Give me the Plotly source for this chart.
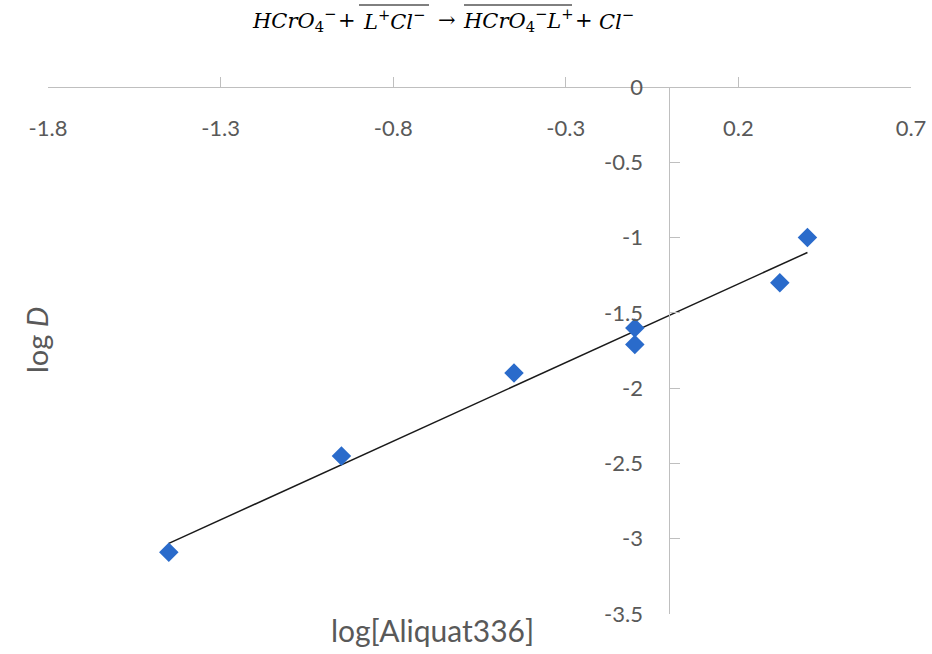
import numpy as np
import plotly.graph_objects as go

# Data
log_aliquat = [-1.45, -0.95, -0.45, -0.10, -0.10, 0.32, 0.40]
log_D = [-3.09, -2.45, -1.90, -1.60, -1.71, -1.30, -1.00]

x_tickvals = [-1.8, -1.3, -0.8, -0.3, 0.2, 0.7]
x_ticktext = ["-1.8", "-1.3", "-0.8", "-0.3", "0.2", "0.7"]
y_tickvals = [0, -0.5, -1, -1.5, -2, -2.5, -3, -3.5]
y_ticktext = ["0", "-0.5", "-1", "-1.5", "-2", "-2.5", "-3", "-3.5"]

# Equation pieces (text, overlined?)
eq_parts = [
    ("<i>HCrO</i><sub>4</sub><sup>−</sup>", False),
    ("+", False),
    ("<i>L</i><sup>+</sup><i>Cl</i><sup>−</sup>", True),
    ("→", False),
    ("<i>HCrO</i><sub>4</sub><sup>−</sup><i>L</i><sup>+</sup>", True),
    ("+", False),
    ("<i>Cl</i><sup>−</sup>", False),
]

# Linear trendline (least squares) from the data
slope, intercept = np.polyfit(log_aliquat, log_D, 1)
x_fit = [min(log_aliquat), max(log_aliquat)]
y_fit = [slope * v + intercept for v in x_fit]

fig = go.Figure()
fig.add_trace(go.Scatter(x=x_fit, y=y_fit, mode="lines",
                         line=dict(color="#1a1a1a", width=1.5),
                         hoverinfo="skip", showlegend=False))
fig.add_trace(go.Scatter(x=log_aliquat, y=log_D, mode="markers",
                         marker=dict(symbol="diamond", size=15, color="#2A6BCB"),
                         showlegend=False))

TICKFONT = dict(family="Lato", size=22, color="#595959")
AXCOL = "#BFBFBF"

L, R, T, B = 48, 21, 87, 40
W, H = 932, 654
PW, PH = W - L - R, H - T - B


def px(xp):
    return (xp - L) / PW


def py(yp):
    return (H - B - yp) / PH


fig.update_layout(
    width=W, height=H,
    margin=dict(l=L, r=R, t=T, b=B, autoexpand=False),
    paper_bgcolor="white", plot_bgcolor="white",
    xaxis=dict(range=[-1.8, 0.7], side="bottom", anchor="free", position=1,
               showgrid=False, zeroline=False, automargin=False,
               showline=True, linecolor=AXCOL, linewidth=1,
               ticks="inside", ticklen=10, tickcolor=AXCOL,
               tickvals=x_tickvals, ticktext=x_ticktext,
               ticklabelstandoff=22, tickfont=TICKFONT),
    yaxis=dict(range=[-3.5, 0.000001], anchor="free", position=0.72,
               showgrid=False, zeroline=False, automargin=False,
               showline=True, linecolor=AXCOL, linewidth=1,
               ticks="inside", ticklen=10, tickcolor=AXCOL,
               tickvals=y_tickvals, ticktext=y_ticktext,
               ticklabelstandoff=22, tickfont=TICKFONT),
)

# Equation title, piece by piece (pixel extents of each piece in the layout)
extents = [(253, 335), (340, 354), (359, 429), (436, 458), (464, 572), (577, 591), (602, 630)]
EQFONT = dict(family="DejaVu Serif", size=21, color="#000000")
for (txt, over), (x0, x1) in zip(eq_parts, extents):
    fig.add_annotation(text=txt, xref="paper", yref="paper", x=px((x0 + x1) / 2), y=py(20),
                       xanchor="center", yanchor="middle", showarrow=False, font=EQFONT)
    if over:
        fig.add_shape(type="line", xref="paper", yref="paper",
                      x0=px(x0), x1=px(x1), y0=py(5), y1=py(5),
                      line=dict(color="#000000", width=1))

fig.add_annotation(text="log[Aliquat336]", xref="paper", yref="paper",
                   x=px(432), y=py(630),
                   xanchor="center", yanchor="middle", showarrow=False,
                   font=dict(family="Lato", size=30, color="#595959"))
fig.add_annotation(text="log <i>D</i>", xref="paper", yref="paper",
                   x=px(36), y=py(340), textangle=-90,
                   xanchor="center", yanchor="middle", showarrow=False,
                   font=dict(family="Lato", size=29, color="#595959"))

fig.write_html("out.html")
